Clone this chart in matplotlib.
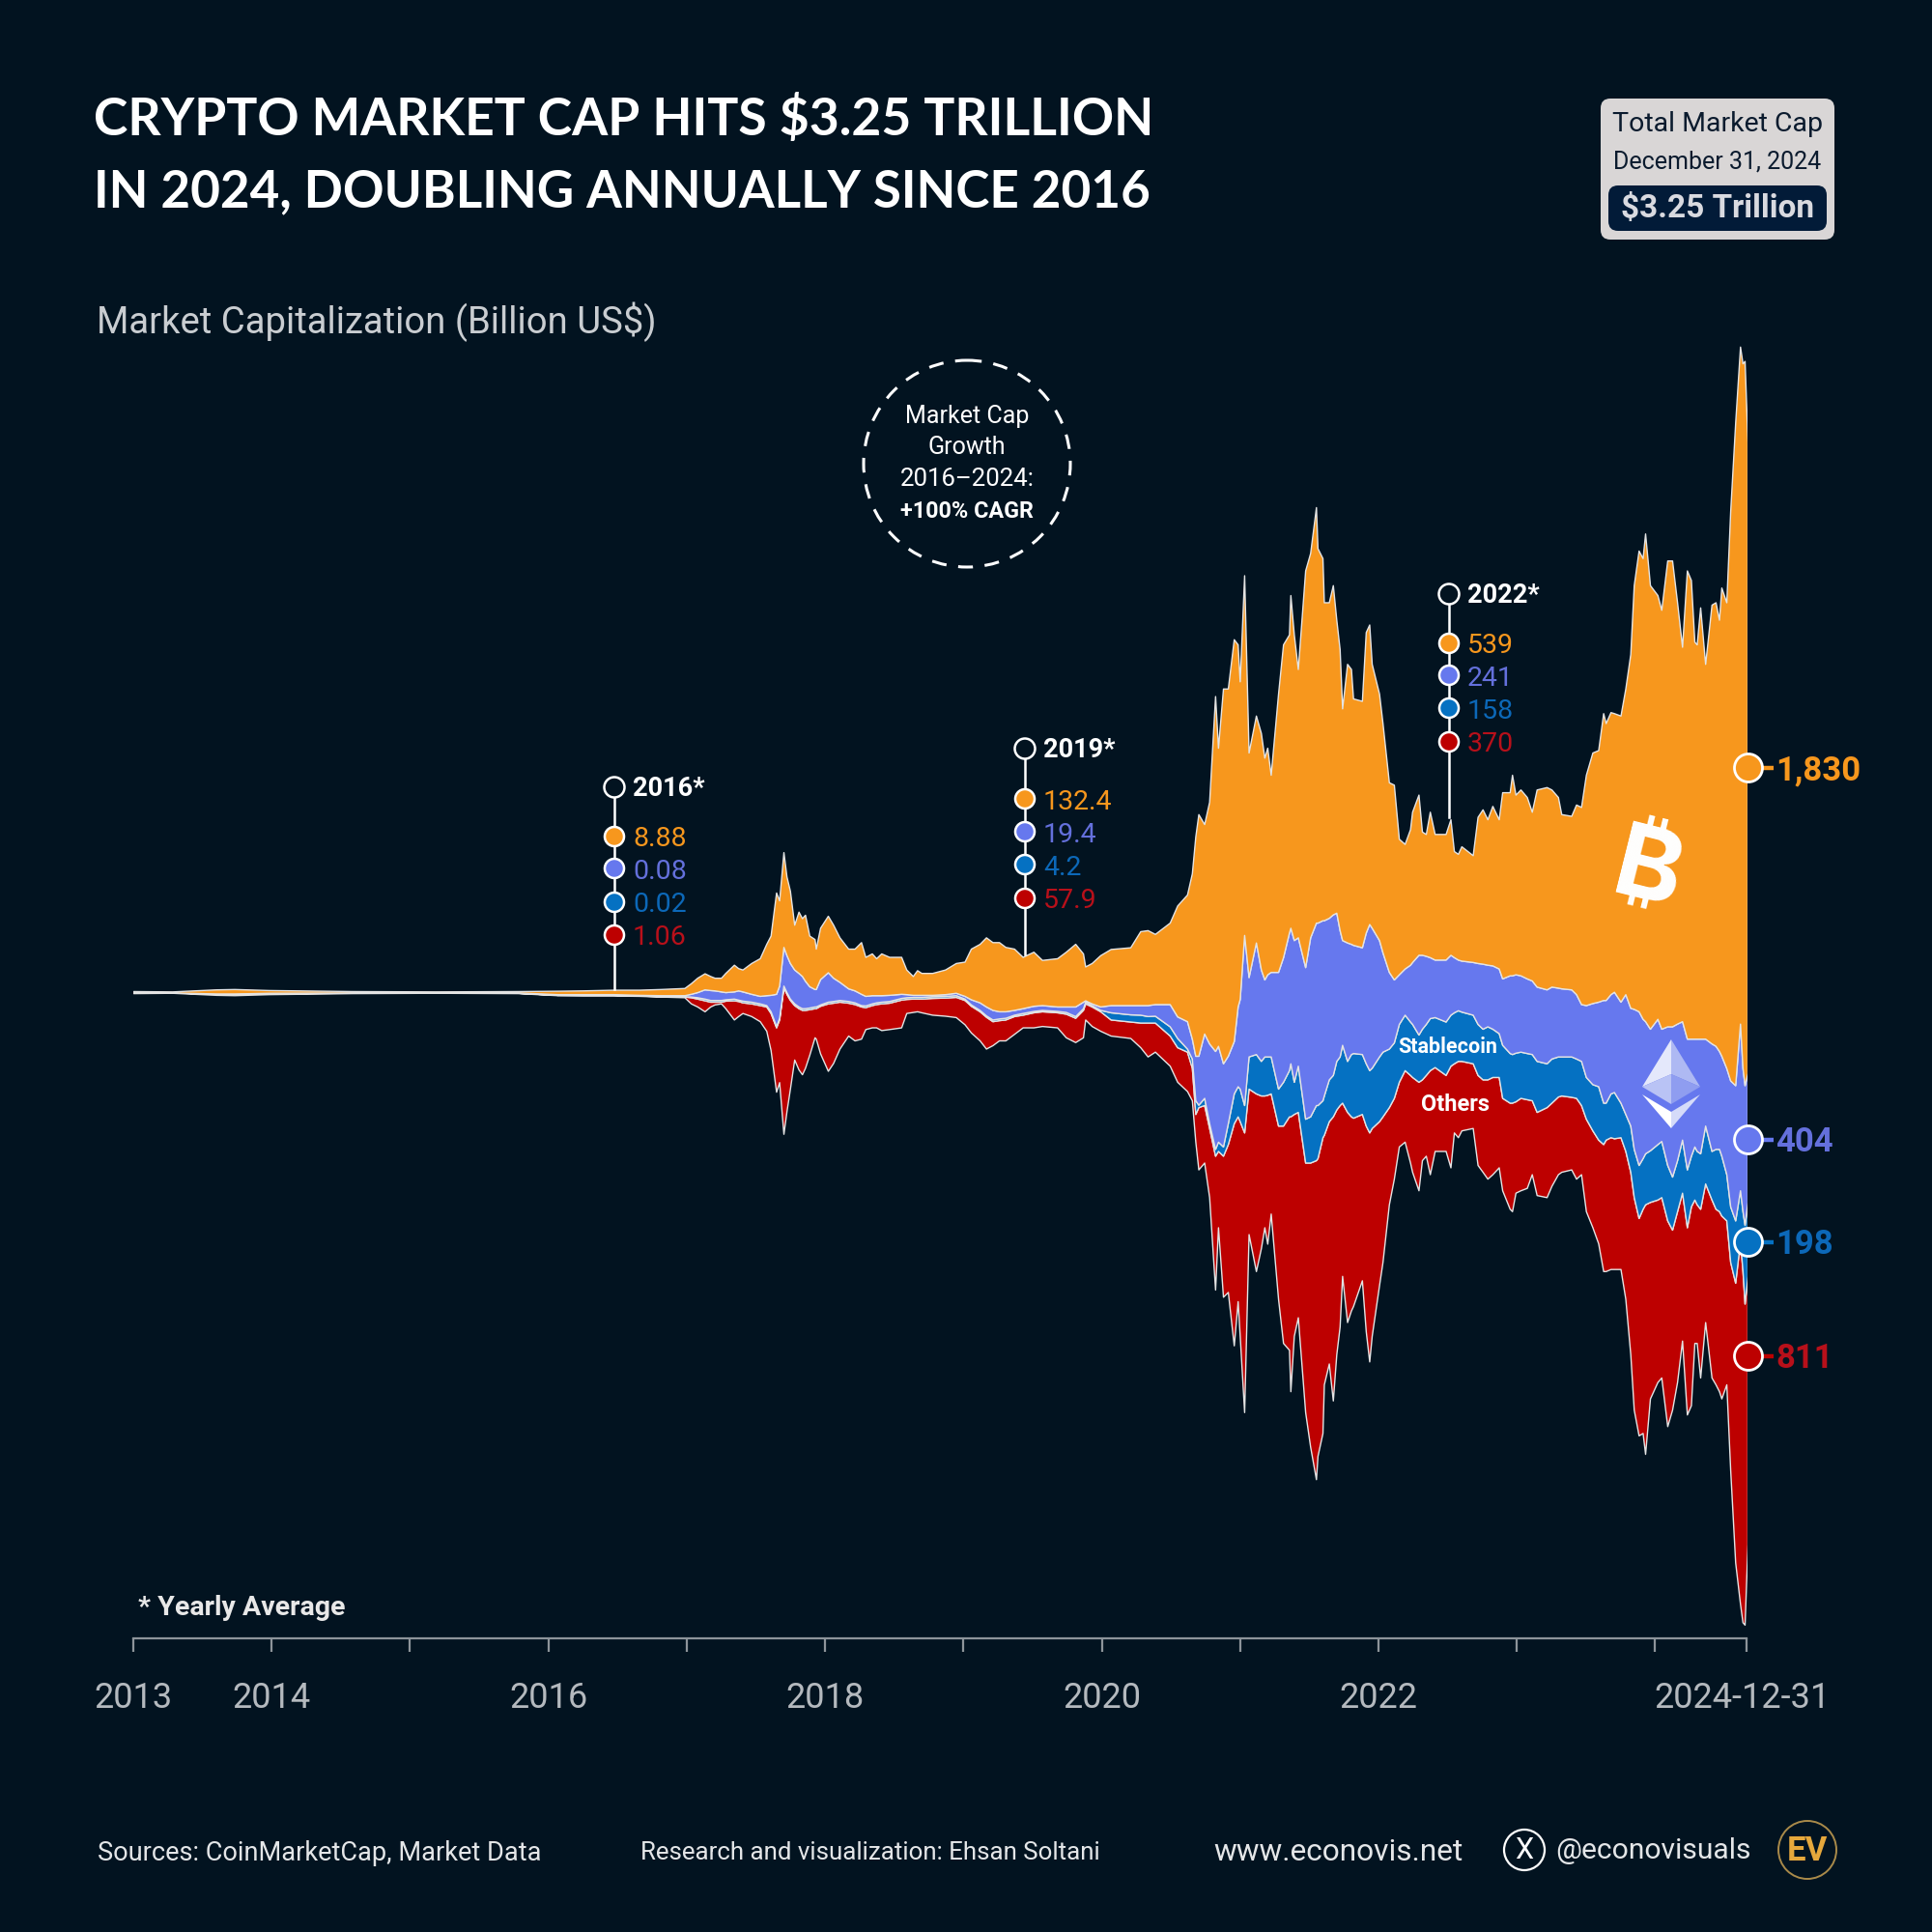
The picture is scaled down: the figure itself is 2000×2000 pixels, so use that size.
import numpy as np
import matplotlib
matplotlib.use('Agg')
import matplotlib.pyplot as plt
from matplotlib.patches import Circle, FancyBboxPatch, Polygon
from matplotlib.transforms import ScaledTranslation

# stream edges in billion US$, measured from the centre line of the chart
years = [2013.32,2013.60,2013.92,2014.05,2014.30,2014.90,2015.50,2016.10,
    2016.384,2016.571,2016.789,2016.976,2017.131,2017.303,2017.350,2017.396,2017.449,2017.490,2017.521,2017.568,2017.599,2017.661,2017.692,2017.723,2017.786,2017.848,2017.895,2017.926,2017.966,2017.988,
    2018.019,2018.041,2018.066,2018.097,2018.128,2018.153,2018.175,2018.206,2018.244,2018.253,2018.284,2018.340,2018.378,2018.424,2018.487,2018.533,2018.580,2018.611,2018.658,2018.689,2018.726,2018.783,2018.870,2018.907,2018.954,2018.985,
    2019.016,2019.094,2019.187,2019.265,2019.328,2019.374,2019.437,2019.483,2019.530,2019.577,2019.623,2019.686,2019.748,2019.826,2019.888,2019.997,
    2020.060,2020.128,2020.184,2020.200,2020.247,2020.309,
    2020.384,2020.526,2020.598,2020.651,2020.704,2020.811,2020.865,2020.936,2020.971,2020.996,
    2021.018,2021.060,2021.096,2021.139,2021.160,2021.196,2021.231,2021.274,2021.302,2021.317,2021.349,2021.381,2021.434,2021.470,2021.495,2021.516,2021.541,2021.594,2021.630,2021.673,2021.683,2021.708,2021.737,2021.790,2021.826,2021.868,2021.879,2021.915,2021.925,2021.961,2021.990,
    2022.015,2022.039,2022.057,2022.093,2022.121,2022.136,2022.200,2022.228,2022.253,2022.271,2022.324,2022.349,2022.395,2022.431,2022.467,2022.509,2022.548,2022.563,2022.609,2022.634,2022.662,2022.691,2022.726,2022.805,2022.840,2022.865,2022.894,2022.919,
    2023.001,2023.036,2023.072,2023.107,2023.143,2023.189,2023.214,2023.268,2023.285,2023.310,2023.346,2023.392,2023.428,2023.463,2023.535,2023.570,2023.617,2023.641,2023.713,2023.748,2023.784,2023.819,2023.866,2023.908,2023.944,2023.962,2023.997,
    2024.022,2024.069,2024.104,2024.140,2024.165,2024.200,2024.229,2024.247,2024.282,2024.336,2024.364,2024.407,2024.442,2024.478,2024.514,2024.549,2024.578,2024.603,2024.620,2024.645,2024.681,2024.727,2024.756,2024.781,2024.798,2024.834,2024.862,2024.898,2024.933,2024.951,2024.966,2024.987]

btc_upper = [3,2,8,9,6,3,2,3,
    4,5,7,7,9,12,26,42,55,47,42,42,56,80,70,66,85,99,141,165,291,268,409,338,296,197,235,216,226,165,155,127,188,223,197,160,127,127,146,103,113,99,113,103,103,66,47,64,56,56,66,85,89,127,141,160,146,146,132,127,103,118,94,99,118,141,113,75,85,108,
    126,131,178,181,170,203,253,285,347,455,520,491,556,865,714,887,887,1031,1016,908,1218,700,808,757,685,714,635,872,1016,1045,1160,1045,944,1232,1283,1417,1297,1268,1139,1139,1189,1088,1002,829,959,944,858,851,1052,1074,959,872,786,613,606,448,433,476,527,577,469,462,527,462,462,505,412,404,426,400,512,534,505,544,505,584,584,635,577,592,570,527,592,599,592,570,520,515,548,541,635,700,707,815,786,818,815,808,887,988,1189,1290,1268,1340,1189,1160,1117,1261,1261,1139,1009,1232,1204,1024,1016,1124,959,1132,1139,1088,1182,1139,1405,1664,1886,1837,1844,1607]
btc_lower = [-1,-1,-4,-4,-2,-1,-1,-1,
    -6,-6,-6,-8,-9,-9,-5,0,8,6,5,2,0,2,5,2,-5,-11,-9,-8,-5,19,132,108,85,66,56,47,33,17,9,9,38,58,42,30,11,5,-5,-11,-9,-9,-9,-8,-5,-6,-8,-8,-8,-8,-6,-2,-11,-21,-30,-42,-52,-56,-56,-52,-47,-40,-38,-42,-42,-42,-28,-24,-33,-42,
    -38,-38,-38,-38,-35,-35,-71,-85,-136,-186,-186,-121,-150,-172,-157,-208,-186,-143,-42,-20,167,44,145,66,37,52,59,59,102,174,188,152,160,73,160,203,203,210,210,217,227,232,181,152,145,141,138,131,174,199,188,152,116,59,37,52,69,80,88,109,109,106,102,95,95,109,102,95,92,88,85,83,80,78,69,40,49,49,52,49,40,34,16,8,16,13,11,8,-6,-35,-38,-32,-28,-23,-23,-6,1,-28,-6,-46,-49,-56,-78,-85,-107,-78,-107,-100,-100,-92,-85,-136,-136,-136,-136,-136,-136,-150,-157,-172,-186,-222,-258,-272,-92,-222,-272,-236]
eth_lower = [-1,-1,-4,-5,-3,-1,-1,-2,
    -8,-8,-8,-9,-11,-12,-13,-15,-19,-23,-23,-23,-21,-19,-22,-25,-28,-33,-38,-56,-99,-75,19,0,-19,-33,-42,-47,-47,-45,-42,-42,-36,-28,-26,-23,-26,-30,-38,-39,-33,-30,-28,-26,-17,-15,-14,-14,-14,-12,-11,-9,-19,-36,-52,-68,-80,-77,-75,-66,-61,-55,-52,-55,-58,-70,-47,-28,-38,-52,
    -59,-65,-66,-70,-69,-100,-134,-165,-194,-316,-329,-309,-383,-458,-437,-451,-383,-296,-275,-282,-330,-188,-181,-201,-188,-188,-188,-282,-262,-228,-208,-262,-215,-370,-363,-330,-330,-316,-302,-255,-242,-201,-188,-154,-201,-181,-178,-181,-208,-228,-221,-188,-174,-165,-147,-93,-66,-86,-93,-124,-107,-93,-76,-73,-86,-66,-59,-53,-57,-66,-93,-107,-100,-107,-120,-154,-178,-181,-177,-174,-178,-181,-201,-208,-194,-188,-188,-188,-194,-201,-248,-269,-275,-323,-323,-296,-292,-323,-356,-390,-458,-505,-485,-471,-462,-444,-435,-505,-539,-491,-431,-518,-478,-451,-464,-471,-390,-464,-458,-458,-478,-532,-626,-667,-579,-640,-680,-613]
stable_lower = [-2,-1,-5,-5,-3,-2,-1,-2,
    -8,-8,-8,-10,-12,-13,-15,-19,-24,-28,-28,-28,-25,-24,-26,-30,-33,-38,-42,-61,-103,-80,14,-5,-23,-38,-47,-52,-52,-50,-47,-47,-40,-33,-31,-28,-31,-35,-42,-44,-38,-35,-33,-31,-22,-20,-19,-19,-19,-17,-16,-14,-23,-40,-56,-72,-85,-82,-80,-70,-66,-59,-56,-59,-63,-75,-52,-33,-42,-56,
    -80,-86,-89,-89,-89,-127,-161,-174,-221,-356,-336,-330,-397,-478,-464,-478,-444,-383,-363,-377,-410,-282,-296,-302,-302,-300,-296,-390,-390,-363,-363,-356,-350,-498,-498,-491,-485,-424,-417,-377,-363,-343,-330,-323,-350,-363,-367,-356,-390,-410,-397,-377,-363,-336,-309,-262,-228,-242,-248,-262,-255,-242,-228,-219,-242,-215,-208,-201,-201,-208,-242,-255,-255,-248,-248,-309,-323,-323,-319,-309,-313,-316,-350,-336,-323,-305,-302,-306,-309,-330,-370,-404,-431,-444,-431,-424,-427,-424,-464,-525,-599,-660,-633,-620,-613,-606,-599,-667,-694,-640,-586,-687,-626,-606,-620,-633,-559,-606,-633,-640,-653,-667,-788,-849,-728,-815,-910,-829]
others_lower = [-3,-2,-8,-9,-6,-3,-2,-3,
    -9,-10,-10,-11,-13,-15,-33,-42,-56,-42,-36,-33,-47,-80,-70,-61,-70,-85,-113,-169,-291,-263,-414,-348,-282,-197,-226,-240,-221,-183,-132,-136,-179,-230,-207,-165,-127,-141,-136,-108,-103,-103,-111,-108,-103,-61,-58,-56,-59,-66,-69,-73,-94,-118,-141,-165,-155,-141,-141,-122,-103,-103,-99,-103,-132,-146,-132,-80,-99,-113,
    -127,-134,-161,-188,-174,-215,-262,-289,-316,-437,-518,-498,-599,-869,-687,-890,-876,-1032,-903,-1004,-1227,-707,-815,-748,-687,-735,-647,-896,-1025,-1045,-1166,-1004,-950,-1227,-1328,-1423,-1355,-1288,-1146,-1085,-1193,-1058,-977,-829,-964,-930,-917,-842,-991,-1079,-1004,-856,-788,-620,-545,-451,-437,-498,-525,-579,-491,-478,-532,-464,-464,-512,-410,-424,-404,-397,-505,-525,-545,-532,-512,-579,-633,-640,-586,-579,-572,-532,-593,-599,-566,-532,-525,-518,-545,-532,-640,-687,-734,-815,-815,-809,-809,-809,-896,-1058,-1220,-1295,-1288,-1349,-1187,-1139,-1126,-1268,-1220,-1139,-1018,-1234,-1207,-1025,-1025,-1126,-964,-1126,-1146,-1166,-1187,-1146,-1396,-1666,-1787,-1841,-1848,-1612]

tick_years = [2013.32,2014.32,2015.32,2016.32,2017.32,2018.32,2019.32,2020.32,2021.32,2022.32,2023.32,2024.32,2024.98]
tick_labels = ['2013','2014','','2016','','2018','','2020','','2022','','','2024-12-31']

# yearly averages: BTC, ETH, stablecoin, others
avg_2016 = ['8.88','0.08','0.02','1.06']
avg_2019 = ['132.4','19.4','4.2','57.9']
avg_2022 = ['539','241','158','370']
end_values = ['1,830','404','198','811']

BG = '#021320'
ORANGE = '#F7971D'
VIOLET = '#6678EE'
BLUE = '#0571C2'
RED = '#BD0000'
TXT_VIOLET = '#6470DC'
TXT_BLUE = '#0C68B8'
TXT_RED = '#B8101A'
GREY = '#C9CDD1'
band_colors = [ORANGE, VIOLET, BLUE, RED]
label_colors = [ORANGE, TXT_VIOLET, TXT_BLUE, TXT_RED]

NARROW = ['Roboto', 'DejaVu Sans']

fig = plt.figure(figsize=(20, 20), dpi=100, facecolor=BG)

# chart axes, spine sits on the time axis line
ax = fig.add_axes([138/2000, 1-1696/2000, 1670/2000, (1696-340)/2000], facecolor='none')
edges = [np.array(e, dtype=float) for e in (btc_upper, btc_lower, eth_lower, stable_lower, others_lower)]
x = np.array(years)
for i in range(4):
    ax.fill_between(x, edges[i], edges[i+1], color=band_colors[i], edgecolor='#E4E4E4', linewidth=1.0, zorder=3-i*0.1)
ax.set_xlim(2013.32, 2024.98)
ax.set_ylim(-1888, 1939)
for s in ['top', 'left', 'right']:
    ax.spines[s].set_visible(False)
ax.spines['bottom'].set_color('#8D949A')
ax.spines['bottom'].set_linewidth(1.6)
ax.set_yticks([])
ax.set_xticks(tick_years)
ax.set_xticklabels(tick_labels, fontsize=26, color='#B4B9BE', family=NARROW)
ax.tick_params(axis='x', length=10, width=1.6, color='#8D949A', pad=22)
last = ax.get_xticklabels()[-1]
last.set_transform(last.get_transform() + ScaledTranslation(-0.05, 0, fig.dpi_scale_trans))

# overlay in picture pixels for everything around the stream
ov = fig.add_axes([0, 0, 1, 1], facecolor='none')
ov.set_xlim(0, 2000)
ov.set_ylim(2000, 0)
ov.axis('off')

ov.text(97, 124, 'CRYPTO MARKET CAP HITS $3.25 TRILLION', fontsize=38.5, fontweight='bold', family=['Lato', 'DejaVu Sans'], color='white', va='center')
ov.text(97, 199, 'IN 2024, DOUBLING ANNUALLY SINCE 2016', fontsize=38.2, fontweight='bold', family=['Lato', 'DejaVu Sans'], color='white', va='center')
ov.text(100, 333, 'Market Capitalization (Billion US$)', fontsize=27.5, family=NARROW, color=GREY, va='center')

# total box
ov.add_patch(FancyBboxPatch((1665, 110), 226, 130, boxstyle='round,pad=8,rounding_size=10', fc='#D9D6D6', ec='none'))
ov.add_patch(FancyBboxPatch((1671, 198), 214, 35, boxstyle='round,pad=6,rounding_size=10', fc='#021B38', ec='none'))
ov.text(1778, 129, 'Total Market Cap', fontsize=20.5, family=NARROW, color='#0B1B2E', ha='center', va='center')
ov.text(1778, 168, 'December 31, 2024', fontsize=18, family=NARROW, color='#0B1B2E', ha='center', va='center')
ov.text(1778, 216, '$3.25 Trillion', fontsize=24, fontweight='bold', family=NARROW, color='#D9DAE0', ha='center', va='center')

# growth note
ov.add_patch(Circle((1001, 480), 107, fc='none', ec='white', lw=2.2, ls=(0, (5, 4))))
for txt, yy, wt, sz in [('Market Cap', 431, 'normal', 18), ('Growth', 463, 'normal', 18), ('2016–2024:', 496, 'normal', 18.5), ('+100% CAGR', 529, 'bold', 16.8)]:
    ov.text(1001, yy, txt, fontsize=sz, fontweight=wt, family=NARROW, color='white', ha='center', va='center')

# yearly average lollipops
for xx, label, ytop, ys, vals, yend in [
        (636, '2016*', 815, [866, 899, 934, 968], avg_2016, 1024),
        (1061, '2019*', 775, [827, 861, 895, 930], avg_2019, 988),
        (1500, '2022*', 615, [666, 699, 733, 768], avg_2022, 846)]:
    ov.plot([xx, xx], [ytop, yend], color='white', lw=1.8, zorder=4)
    ov.add_patch(Circle((xx, ytop), 10.5, fc=BG, ec='white', lw=1.8, zorder=5))
    ov.text(xx+19, ytop+2, label, fontsize=19.5, fontweight='bold', family=NARROW, color='white', va='center')
    for yy, val, c, tc in zip(ys, vals, band_colors, label_colors):
        ov.add_patch(Circle((xx, yy), 10, fc=c, ec='white', lw=1.8, zorder=5))
        ov.text(xx+19, yy+3, val, fontsize=20.5, family=NARROW, color=tc, va='center')

# end of series labels
for yy, val, c, tc in zip([795, 1180, 1286, 1404], end_values, band_colors, [ORANGE, TXT_VIOLET, TXT_BLUE, TXT_RED]):
    ov.plot([1822, 1836], [yy, yy], color=c, lw=3.2, zorder=4, solid_capstyle='butt')
    ov.add_patch(Circle((1810, yy), 14.5, fc=c, ec='white', lw=2, zorder=5))
    ov.text(1838, yy+3, val, fontsize=25, fontweight='bold', family=NARROW, color=tc, va='center')

ov.text(1499, 1084, 'Stablecoin', fontsize=15.5, fontweight='bold', family=NARROW, color='white', ha='center', va='center', zorder=6)
ov.text(1506, 1144, 'Others', fontsize=17, fontweight='bold', family=NARROW, color='white', ha='center', va='center', zorder=6)

# coin marks
ov.text(1706, 905, '₿', fontsize=76, fontweight='bold', family=['Inter', 'Noto Sans', 'Open Sans', 'Lato', 'Roboto', 'Noto Sans CJK SC', 'DejaVu Sans'], color='white', ha='center', va='center', rotation=-14, zorder=6)
ov.add_patch(Polygon([(1730, 1076), (1700, 1125), (1730, 1112)], fc='#E4E8FB', ec='none', zorder=6))
ov.add_patch(Polygon([(1730, 1076), (1760, 1125), (1730, 1112)], fc='#AEB9F3', ec='none', zorder=6))
ov.add_patch(Polygon([(1700, 1125), (1730, 1112), (1730, 1143)], fc='#B9C3F5', ec='none', zorder=6))
ov.add_patch(Polygon([(1760, 1125), (1730, 1112), (1730, 1143)], fc='#8F9DF0', ec='none', zorder=6))
ov.add_patch(Polygon([(1700, 1133), (1730, 1151), (1730, 1168)], fc='white', ec='none', zorder=6))
ov.add_patch(Polygon([(1760, 1133), (1730, 1151), (1730, 1168)], fc='#D5DBF9', ec='none', zorder=6))

ov.text(143, 1665, '* Yearly Average', fontsize=20.5, fontweight='bold', family=NARROW, color='#E8E8E8', va='center')

# footer
ov.text(101, 1918, 'Sources: CoinMarketCap, Market Data', fontsize=19.5, family=NARROW, color='#E4E6E8', va='center')
ov.text(663, 1918, 'Research and visualization: Ehsan Soltani', fontsize=18.6, family=NARROW, color='#E4E6E8', va='center')
ov.text(1256, 1918, 'www.econovis.net', fontsize=22.8, family=NARROW, color='#E4E6E8', va='center')
ov.add_patch(Circle((1578, 1915), 21, fc='none', ec='white', lw=1.6))
ov.text(1578, 1915, 'X', fontsize=22, family=NARROW, color='white', ha='center', va='center')
ov.text(1610, 1916, '@econovisuals', fontsize=21.6, family=NARROW, color='#E4E6E8', va='center')
ov.add_patch(Circle((1871, 1915), 30, fc='none', ec='#A98A4A', lw=1.4))
ov.text(1871, 1916, 'EV', fontsize=25, fontweight='bold', family=NARROW, color='#E6A83C', ha='center', va='center')

fig.savefig('out.png', dpi=100, facecolor=BG)
